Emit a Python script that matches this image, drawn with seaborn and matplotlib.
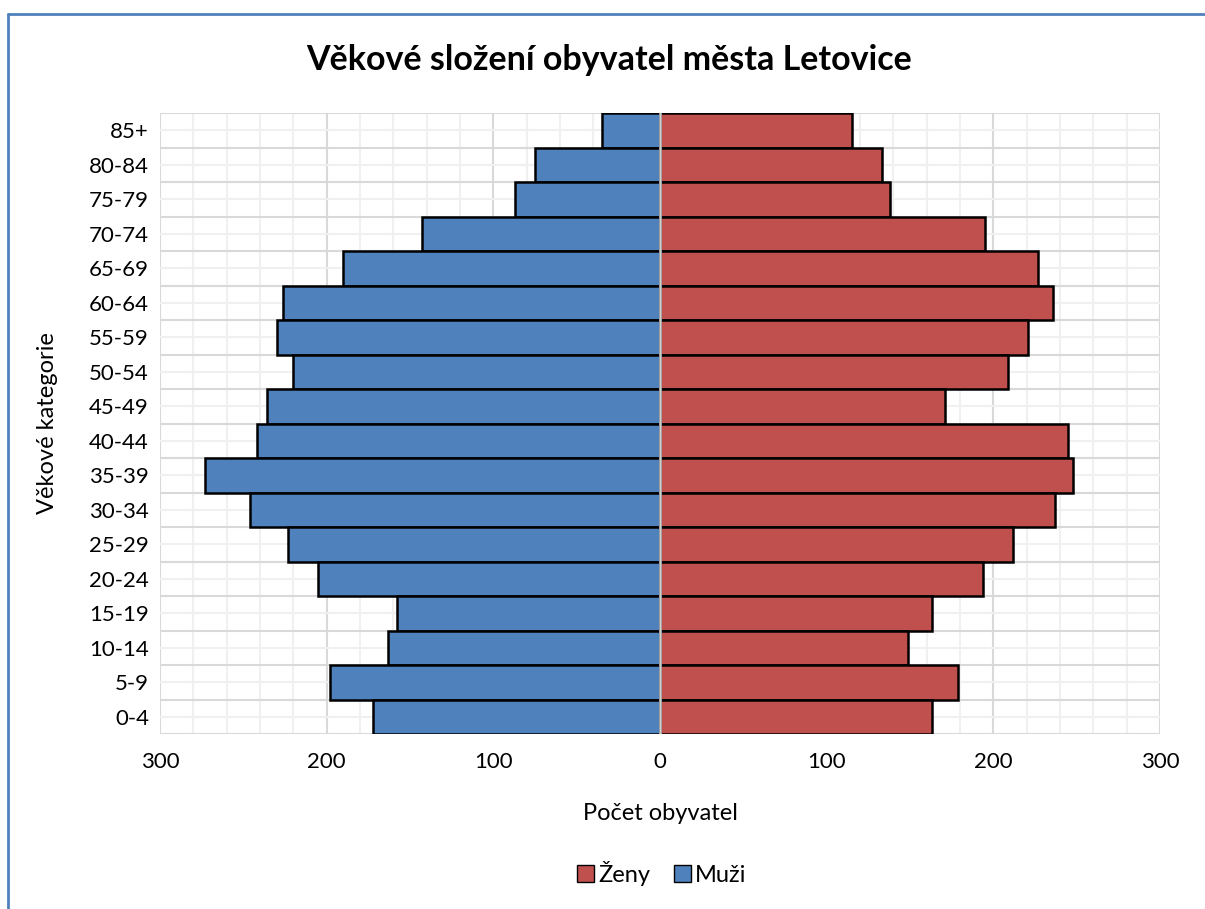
import matplotlib
matplotlib.use("Agg")
import matplotlib.pyplot as plt
import seaborn as sns
import pandas as pd
import numpy as np
from matplotlib.lines import Line2D
from matplotlib.patches import Patch
from matplotlib.ticker import MultipleLocator, FuncFormatter

categories = ["85+", "80-84", "75-79", "70-74", "65-69", "60-64", "55-59", "50-54",
              "45-49", "40-44", "35-39", "30-34", "25-29", "20-24", "15-19",
              "10-14", "5-9", "0-4"]
muzi = [35, 75, 87, 143, 190, 226, 230, 220, 236, 242, 273, 246, 223, 205, 158, 163, 198, 172]
zeny = [115, 133, 138, 195, 227, 236, 221, 209, 171, 245, 248, 237, 212, 194, 163, 149, 179, 163]

sns.set_theme(style="white")
plt.rcParams['font.family'] = ['Lato', 'DejaVu Sans']
plt.rcParams['text.color'] = 'black'
plt.rcParams['axes.labelcolor'] = 'black'

df = pd.DataFrame({
    "kategorie": categories * 2,
    "pocet": [-v for v in muzi] + zeny,
    "pohlavi": ["Muži"] * len(categories) + ["Ženy"] * len(categories),
})

blue = "#4F81BD"
red = "#C0504D"

fig = plt.figure(figsize=(12.05, 9.09), dpi=100)
ax = fig.add_axes([160/1205, 1 - 734/909, 1000/1205, (734-113)/909])

sns.barplot(data=df, x="pocet", y="kategorie", hue="pohlavi", order=categories,
            hue_order=["Muži", "Ženy"], palette={"Muži": blue, "Ženy": red},
            dodge=False, width=1.0, edgecolor="black", linewidth=1.8, saturation=1,
            orient="h", legend=False, ax=ax, zorder=3)

ax.set_xlim(-300, 300)
ax.set_ylim(len(categories) - 0.5, -0.5)
ax.xaxis.set_major_locator(MultipleLocator(100))
ax.xaxis.set_minor_locator(MultipleLocator(20))
ax.xaxis.set_major_formatter(FuncFormatter(lambda v, p: f"{abs(int(round(v)))}"))
ax.set_yticks(np.arange(len(categories)))
ax.set_yticklabels(categories)
ax.set_yticks(np.arange(len(categories) + 1) - 0.5, minor=True)

ax.grid(which="major", axis="x", color="#d9d9d9", linewidth=1.5, zorder=0)
ax.grid(which="minor", axis="x", color="#f0f0f0", linewidth=1.5, zorder=0)
ax.grid(which="minor", axis="y", color="#d9d9d9", linewidth=1.5, zorder=0)
ax.grid(which="major", axis="y", color="#f0f0f0", linewidth=1.5, zorder=0)
ax.set_axisbelow(True)
for s in ax.spines.values():
    s.set_visible(False)
ax.tick_params(which="both", length=0, labelsize=16, colors="#000000")
ax.tick_params(axis="x", pad=13)
ax.tick_params(axis="y", pad=8)

ax.axvline(0, color="#d0d0d0", linewidth=1.8, zorder=5)

ax.set_xlabel("Počet obyvatel", fontsize=17, labelpad=22)
ax.set_ylabel("Věkové kategorie", fontsize=17, labelpad=22)

fig.text(609/1205, 1 - 60/909, "Věkové složení obyvatel města Letovice",
         ha="center", va="center", fontsize=24.5, fontweight="bold", color="black")

handles = [Patch(facecolor=red, edgecolor="black", label="Ženy"),
           Patch(facecolor=blue, edgecolor="black", label="Muži")]
fig.legend(handles=handles, loc="center", bbox_to_anchor=(662/1205, 1 - 873/909),
           ncol=2, frameon=False, fontsize=17, handlelength=0.7, handleheight=0.7,
           handletextpad=0.2, columnspacing=1.0)

fig.add_artist(Line2D([8/1205, 8/1205], [0, 1 - 14/909], color=blue, linewidth=2,
                      transform=fig.transFigure))
fig.add_artist(Line2D([8/1205, 1], [1 - 14/909, 1 - 14/909], color=blue, linewidth=2,
                      transform=fig.transFigure))

fig.savefig("out.png", dpi=100)
